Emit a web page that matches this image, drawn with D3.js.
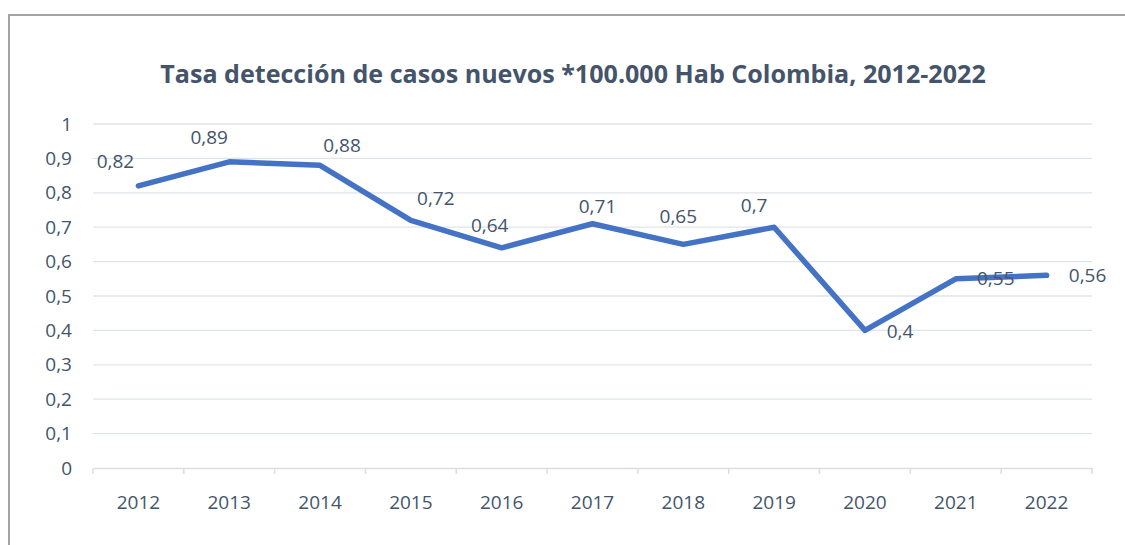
<!DOCTYPE html>
<html lang="es">
<head>
	<meta charset="UTF-8">
	<script type="text/javascript" src="https://d3js.org/d3.v7.min.js"></script>
	<title>Tasa detección de casos nuevos</title>
	<style>
		body{ margin:0; background:#fff; }
		text{ font-family: "Open Sans", "Noto Sans", sans-serif; fill:#44546A; }
		.title{ font-weight:bold; }
		.grid line{ stroke:#dfe3ea; stroke-width:1.3; }
		.lbl{ font-size:19px; }
	</style>
</head>
<body>
<script type="text/javascript">
	// data
	const years = ["2012","2013","2014","2015","2016","2017","2018","2019","2020","2021","2022"];
	const rates = [0.82, 0.89, 0.88, 0.72, 0.64, 0.71, 0.65, 0.7, 0.4, 0.55, 0.56];
	const yTicks = [0, 0.1, 0.2, 0.3, 0.4, 0.5, 0.6, 0.7, 0.8, 0.9, 1];
	const titleText = "Tasa detección de casos nuevos *100.000 Hab Colombia, 2012-2022";
	// label placement (px from point) like the hand-moved excel labels
	const labelDx = [-23, -20, 22, 25, -12, 5, -5, -20, 35, 40, 41];
	const labelDy = [-18, -18, -13, -15, -16, -11, -21, -15, 8, 6, 7];

	const W = 1125, H = 545;
	const svg = d3.select("body").append("svg")
		.attr("width", W).attr("height", H);

	// frame (only top and left edges visible)
	svg.append("path")
		.attr("d", "M9,545 L9,15 L1125,15")
		.attr("fill", "none")
		.attr("stroke", "#a3a3a3")
		.attr("stroke-width", 2);

	// title, fitted to width
	const title = svg.append("text")
		.attr("class", "title")
		.attr("x", 573).attr("y", 83)
		.attr("text-anchor", "middle")
		.style("font-size", "24px")
		.text(titleText);
	const tw = title.node().getComputedTextLength();
	title.style("font-size", (24 * 826 / tw) + "px");

	const pLeft = 93, pRight = 1092, pTop = 124, pBottom = 468;
	const x = d3.scaleBand().domain(years).range([pLeft, pRight]);
	const y = d3.scaleLinear().domain([0, 1]).range([pBottom, pTop]);

	// gridlines
	svg.append("g").attr("class", "grid")
		.selectAll("line")
		.data(yTicks.slice(1))
		.enter().append("line")
		.attr("x1", pLeft).attr("x2", pRight)
		.attr("y1", d => y(d)).attr("y2", d => y(d));

	// y labels
	svg.append("g").selectAll("text")
		.data(yTicks)
		.enter().append("text")
		.attr("class", "lbl")
		.attr("x", 72)
		.attr("y", d => y(d))
		.attr("dy", "0.35em")
		.attr("text-anchor", "end")
		.text(d => String(+d.toFixed(1)).replace(".", ","));

	// x axis
	const xAxis = svg.append("g")
		.attr("transform", "translate(0," + pBottom + ")")
		.call(d3.axisBottom(x).tickSize(0).tickPadding(28));
	xAxis.select(".domain").attr("stroke", "#d9dde4").attr("stroke-width", 1.5);
	xAxis.selectAll(".tick text")
		.attr("class", "lbl")
		.attr("font-family", null).attr("font-size", null).attr("fill", null);
	xAxis.attr("font-family", null).attr("font-size", null);
	xAxis.selectAll(".boundary")
		.data(d3.range(years.length + 1))
		.enter().append("line")
		.attr("x1", i => pLeft + i * x.step()).attr("x2", i => pLeft + i * x.step())
		.attr("y1", 0).attr("y2", 6)
		.attr("stroke", "#d9dde4").attr("stroke-width", 1.5);

	// line
	const pts = years.map((yr, i) => ({ year: yr, v: rates[i], i: i }));
	const line = d3.line()
		.x(d => x(d.year) + x.bandwidth() / 2)
		.y(d => y(d.v));
	svg.append("path")
		.datum(pts)
		.attr("d", line)
		.attr("fill", "none")
		.attr("stroke", "#4472C4")
		.attr("stroke-width", 5.5)
		.attr("stroke-linejoin", "round")
		.attr("stroke-linecap", "round");

	// data labels
	svg.append("g").selectAll("text")
		.data(pts)
		.enter().append("text")
		.attr("class", "lbl")
		.attr("x", d => x(d.year) + x.bandwidth() / 2 + labelDx[d.i])
		.attr("y", d => y(d.v) + labelDy[d.i])
		.attr("text-anchor", "middle")
		.text(d => String(d.v).replace(".", ","));
</script>
</body>
</html>
